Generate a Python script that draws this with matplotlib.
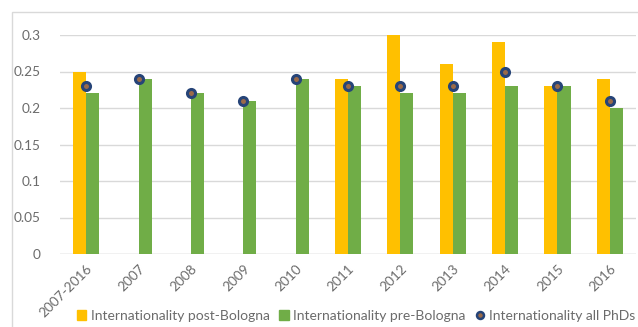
import matplotlib.pyplot as plt
import matplotlib.patches as mpatches
from matplotlib.lines import Line2D
import numpy as np

plt.rcParams['font.family'] = ['Lato', 'DejaVu Sans']

categories = ['2007-2016', '2007', '2008', '2009', '2010', '2011',
              '2012', '2013', '2014', '2015', '2016']
post_bologna = [0.25, np.nan, np.nan, np.nan, np.nan, 0.24, 0.30, 0.26, 0.29, 0.23, 0.24]
pre_bologna = [0.22, 0.24, 0.22, 0.21, 0.24, 0.23, 0.22, 0.22, 0.23, 0.23, 0.20]
all_phds = [0.23, 0.24, 0.22, 0.21, 0.24, 0.23, 0.23, 0.23, 0.25, 0.23, 0.21]
yticks = [0, 0.05, 0.1, 0.15, 0.2, 0.25, 0.3]

c_post = '#FFC000'
c_pre = '#70AD47'
c_dot = '#264478'
c_dot_fill = '#9A6A48'
c_text = '#6B6B6B'
c_grid = '#D9D9D9'

fig = plt.figure(figsize=(6.38, 3.27), dpi=100)
# chart area frame
fig.patches.append(mpatches.Rectangle((12 / 638, -0.1), 1.2, (327 - 12) / 327 + 0.1,
                                      transform=fig.transFigure, fill=False,
                                      edgecolor='#D9D9D9', linewidth=1.0))
ax = fig.add_axes([60 / 638, (327 - 254) / 327, 576 / 638, (254 - 35) / 327])

x = np.arange(len(categories))
w = 0.25
ax.bar(x - w / 2, post_bologna, w, color=c_post, zorder=2)
ax.bar(x + w / 2, pre_bologna, w, color=c_pre, zorder=2)
ax.plot(x, all_phds, 'o', linestyle='none', markersize=5.8, markerfacecolor=c_dot_fill,
        markeredgecolor=c_dot, markeredgewidth=2.2, zorder=3)

ax.set_xlim(-0.5, len(categories) - 0.5)
ax.set_ylim(0, 0.3)
ax.set_yticks(yticks)
ax.set_yticklabels(['0', '0.05', '0.1', '0.15', '0.2', '0.25', '0.3'])
ax.set_xticks(x)
ax.set_xticklabels(categories, rotation=45, ha='right', rotation_mode='anchor')
ax.tick_params(axis='both', length=0, labelsize=9.8, colors=c_text)
ax.tick_params(axis='y', pad=14)
ax.tick_params(axis='x', pad=6)
ax.grid(axis='y', color=c_grid, linewidth=1.0, zorder=0)
for s in ax.spines.values():
    s.set_visible(False)
ax.axhline(0, color=c_grid, linewidth=1.0, zorder=1)

handles = [mpatches.Patch(color=c_post, label='Internationality post-Bologna'),
           mpatches.Patch(color=c_pre, label='Internationality pre-Bologna'),
           Line2D([], [], marker='o', linestyle='none', markersize=5,
                  markerfacecolor=c_dot_fill, markeredgecolor=c_dot, markeredgewidth=1.8,
                  label='Internationality all PhDs')]
leg = fig.legend(handles=handles, loc='center', bbox_to_anchor=(356 / 638, 1 - 316 / 327),
                 ncol=3, frameon=False, fontsize=10, handlelength=0.7, handleheight=0.7,
                 handletextpad=0.3, columnspacing=0.7)
for t in leg.get_texts():
    t.set_color(c_text)

fig.savefig('out.png', dpi=100)
